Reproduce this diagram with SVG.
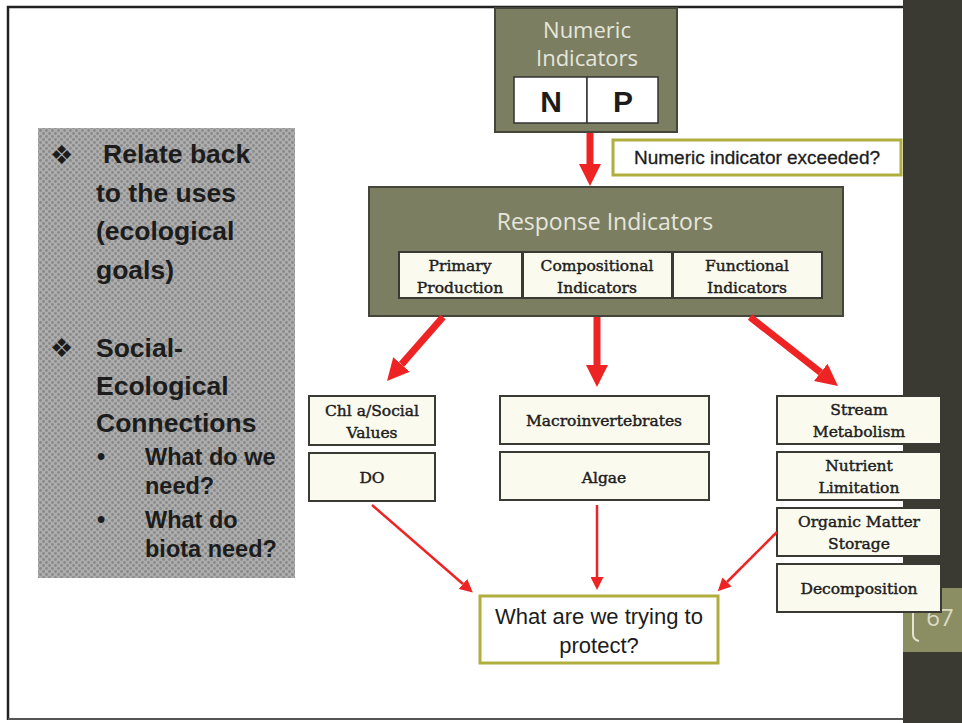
<svg xmlns="http://www.w3.org/2000/svg" width="962" height="723" viewBox="0 0 962 723">
  <defs>
    <pattern id="dots" width="6" height="6" patternUnits="userSpaceOnUse">
      <rect width="6" height="6" fill="#adadad"/>
      <circle cx="1.5" cy="1.5" r="1.4" fill="#8a8a8a"/>
      <circle cx="4.5" cy="4.5" r="1.4" fill="#8a8a8a"/>
    </pattern>
    <marker id="headBig" viewBox="0 0 22 22" refX="0" refY="11" markerWidth="22" markerHeight="22" markerUnits="userSpaceOnUse" orient="auto">
      <path d="M0,0 L22,11 L0,22 z" fill="#ee2424"/>
    </marker>
    <marker id="headSmall" viewBox="0 0 13 13" refX="0" refY="6.5" markerWidth="13" markerHeight="13" markerUnits="userSpaceOnUse" orient="auto">
      <path d="M0,0 L13,6.5 L0,13 z" fill="#ee2424"/>
    </marker>
    <style>
      .olive { fill: #7c7e62; stroke: #45463a; stroke-width: 2; }
      .cream { fill: #fbfaee; stroke: #3a3a34; stroke-width: 2; }
      .gold { fill: #ffffff; stroke: #b0ae3e; stroke-width: 3; }
      .light { font-family: "Open Sans", "Liberation Sans", sans-serif; fill: #e6e6dc; text-anchor: middle; }
      .serif { font-family: "DejaVu Serif", "Liberation Serif", serif; font-size: 15.5px; fill: #1e1e1e; stroke: #1e1e1e; stroke-width: 0.45; text-anchor: middle; }
      .sans { font-family: "Liberation Sans", sans-serif; fill: #1c1c1c; }
      .big { font-size: 26.5px; font-weight: bold; }
      .small { font-size: 23.5px; font-weight: bold; }
      .thick { stroke: #ee2424; stroke-width: 7; fill: none; }
      .thin { stroke: #ee2424; stroke-width: 2.5; fill: none; }
    </style>
  </defs>

  <!-- page background and frame -->
  <rect x="0" y="0" width="962" height="723" fill="#ffffff"/>
  <rect x="903" y="0" width="59" height="723" fill="#3a3a32"/>
  <rect x="903" y="588" width="59" height="64" fill="#8b8d62"/>
  <path d="M8,720 L8,7 L903,7" fill="none" stroke="#222" stroke-width="2.5"/>
  <line x1="8" y1="719" x2="903" y2="719" stroke="#555" stroke-width="2"/>

  <!-- page number -->
  <path d="M918,607 Q913,608 913,614 L913,634 Q913,640 919,641" fill="none" stroke="#e4e4d2" stroke-width="2"/>
  <text x="940" y="626" font-family="Open Sans, Liberation Sans, sans-serif" font-size="24" fill="#dcdcc6" text-anchor="middle">67</text>

  <!-- side notes -->
  <g id="notes">
    <rect x="38" y="128" width="257" height="450" fill="url(#dots)"/>
    <text class="sans" x="50" y="164" font-size="26" fill="#1c1c1c">❖</text>
    <text class="sans big" x="103" y="163">Relate back</text>
    <text class="sans big" x="96" y="202">to the uses</text>
    <text class="sans big" x="96" y="240">(ecological</text>
    <text class="sans big" x="96" y="279">goals)</text>
    <text class="sans" x="50" y="357" font-size="26" fill="#1c1c1c">❖</text>
    <text class="sans big" x="96" y="357">Social-</text>
    <text class="sans big" x="96" y="395">Ecological</text>
    <text class="sans big" x="96" y="432">Connections</text>
    <text class="sans small" x="97" y="465">•</text>
    <text class="sans small" x="145" y="465">What do we</text>
    <text class="sans small" x="145" y="494">need?</text>
    <text class="sans small" x="97" y="528">•</text>
    <text class="sans small" x="145" y="528">What do</text>
    <text class="sans small" x="145" y="557">biota need?</text>
  </g>

  <!-- numeric indicators -->
  <g id="numeric">
    <rect class="olive" x="495" y="8" width="182" height="124"/>
    <text class="light" x="587" y="38" font-size="22">Numeric</text>
    <text class="light" x="587" y="66" font-size="22">Indicators</text>
    <rect x="514" y="77" width="73" height="46" fill="#fff" stroke="#333" stroke-width="1.5"/>
    <rect x="587" y="77" width="71" height="46" fill="#fff" stroke="#333" stroke-width="1.5"/>
    <text class="sans" x="551" y="112" font-size="30" font-weight="bold" text-anchor="middle">N</text>
    <text class="sans" x="623" y="112" font-size="30" font-weight="bold" text-anchor="middle">P</text>
  </g>

  <g id="exceeded">
    <rect class="gold" x="613" y="140" width="288" height="35"/>
    <text class="sans" x="757" y="164" font-size="19" stroke="#1c1c1c" stroke-width="0.3" text-anchor="middle">Numeric indicator exceeded?</text>
  </g>

  <!-- response indicators -->
  <g id="response">
    <rect class="olive" x="369" y="187" width="474" height="129"/>
    <text class="light" x="605" y="230" font-size="23">Response Indicators</text>
    <rect class="cream" x="399" y="252" width="123" height="46"/>
    <text class="serif" x="460" y="271">Primary</text>
    <text class="serif" x="460" y="293">Production</text>
    <rect class="cream" x="523" y="252" width="149" height="46"/>
    <text class="serif" x="597" y="271">Compositional</text>
    <text class="serif" x="597" y="293">Indicators</text>
    <rect class="cream" x="673" y="252" width="149" height="46"/>
    <text class="serif" x="747" y="271">Functional</text>
    <text class="serif" x="747" y="293">Indicators</text>
  </g>

  <!-- left column -->
  <g id="chl">
    <rect class="cream" x="309" y="396" width="126" height="49"/>
    <text class="serif" x="372" y="416">Chl a/Social</text>
    <text class="serif" x="372" y="438">Values</text>
  </g>
  <g id="do">
    <rect class="cream" x="309" y="453" width="126" height="48"/>
    <text class="serif" x="372" y="483">DO</text>
  </g>

  <!-- middle column -->
  <g id="macro">
    <rect class="cream" x="500" y="396" width="209" height="48"/>
    <text class="serif" x="604" y="426">Macroinvertebrates</text>
  </g>
  <g id="algae">
    <rect class="cream" x="500" y="452" width="209" height="48"/>
    <text class="serif" x="604" y="483">Algae</text>
  </g>

  <!-- right column -->
  <g id="stream">
    <rect class="cream" x="777" y="396" width="164" height="48"/>
    <text class="serif" x="859" y="415">Stream</text>
    <text class="serif" x="859" y="437">Metabolism</text>
  </g>
  <g id="nutrient">
    <rect class="cream" x="777" y="452" width="164" height="48"/>
    <text class="serif" x="859" y="471">Nutrient</text>
    <text class="serif" x="859" y="493">Limitation</text>
  </g>
  <g id="organic">
    <rect class="cream" x="777" y="508" width="164" height="48"/>
    <text class="serif" x="859" y="527">Organic Matter</text>
    <text class="serif" x="859" y="549">Storage</text>
  </g>
  <g id="decomp">
    <rect class="cream" x="777" y="564" width="164" height="48"/>
    <text class="serif" x="859" y="594">Decomposition</text>
  </g>

  <!-- goal -->
  <g id="protect">
    <rect class="gold" x="480" y="596" width="238" height="67"/>
    <text class="sans" x="599" y="624" font-size="22" text-anchor="middle">What are we trying to</text>
    <text class="sans" x="599" y="653" font-size="22" text-anchor="middle">protect?</text>
  </g>

  <!-- connectors -->
  <g id="connectors">
    <line class="thick" x1="590" y1="133" x2="590" y2="164" stroke-width="6" marker-end="url(#headBig)"/>
    <line class="thick" x1="443" y1="317" x2="401.5" y2="364.4" marker-end="url(#headBig)"/>
    <line class="thick" x1="597" y1="317" x2="597" y2="365" marker-end="url(#headBig)"/>
    <line class="thick" x1="750" y1="317" x2="820.7" y2="372.4" marker-end="url(#headBig)"/>
    <line class="thin" x1="372" y1="505" x2="463" y2="584" marker-end="url(#headSmall)"/>
    <line class="thin" x1="597" y1="505" x2="597" y2="577" marker-end="url(#headSmall)"/>
    <line class="thin" x1="777" y1="532" x2="727" y2="582" marker-end="url(#headSmall)"/>
  </g>
</svg>
